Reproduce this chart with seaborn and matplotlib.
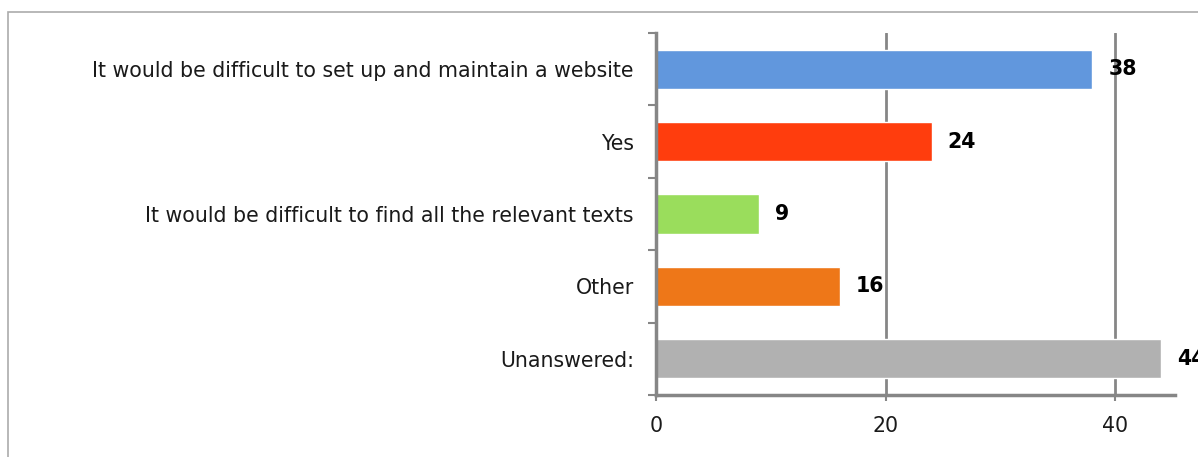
import matplotlib
matplotlib.use("Agg")
import matplotlib.pyplot as plt
import seaborn as sns
import pandas as pd
from matplotlib.patches import Rectangle

categories = [
    "It would be difficult to set up and maintain a website",
    "Yes",
    "It would be difficult to find all the relevant texts",
    "Other",
    "Unanswered:",
]
values = [38, 24, 9, 16, 44]
colors = ["#6197DD", "#FF3D0D", "#9ADD5C", "#EE7718", "#B1B1B1"]
x_ticks = [0, 20, 40]

sns.set_theme(style="white")
plt.rcParams["font.family"] = ["DejaVu Sans"]

df = pd.DataFrame({"category": categories, "value": values})

fig = plt.figure(figsize=(11.98, 4.57), dpi=100)
ax = fig.add_axes([0.5476, 0.1357, 0.4332, 0.7921])

# light frame around the chart area
fig.patches.append(Rectangle((8 / 1198, -0.1), 1.2, 1 - 12 / 457 + 0.1,
                             transform=fig.transFigure, fill=False,
                             edgecolor="#ABABAB", linewidth=1.2, zorder=0))

sns.barplot(data=df, x="value", y="category", hue="category",
            palette=colors, orient="h", width=0.54, legend=False,
            saturation=1, ax=ax, zorder=3)

fs = 14.8
grid_color = "#868686"
ax.set_xlim(0, 45.2)
ax.set_ylim(4.5, -0.5)
ax.set_xticks(x_ticks)
ax.set_xticklabels([str(t) for t in x_ticks], fontsize=fs)
for t in x_ticks[1:]:
    ax.axvline(t, color=grid_color, linewidth=2, zorder=1)

ax.set_yticks(range(len(categories)))
ax.set_yticklabels(categories, fontsize=fs, color="#1a1a1a")
ax.set_yticks([i - 0.5 for i in range(len(categories) + 1)], minor=True)
ax.tick_params(axis="y", which="major", length=0, pad=16)
ax.tick_params(axis="y", which="minor", length=6, width=1.5, color=grid_color,
               direction="out", left=True)
ax.tick_params(axis="x", which="major", length=4, width=1.5, color=grid_color,
               direction="out", bottom=True, pad=11, labelcolor="#1a1a1a")

for side in ["top", "right"]:
    ax.spines[side].set_visible(False)
for side in ["left", "bottom"]:
    ax.spines[side].set_color(grid_color)
    ax.spines[side].set_linewidth(2.5)
    ax.spines[side].set_zorder(4)

ax.set_xlabel("")
ax.set_ylabel("")

for i, v in enumerate(values):
    ax.text(v + 1.4, i, str(v), va="center", ha="left", fontsize=fs,
            fontweight="bold", color="#000000", clip_on=False, zorder=5)

fig.savefig("out.png", dpi=100)
